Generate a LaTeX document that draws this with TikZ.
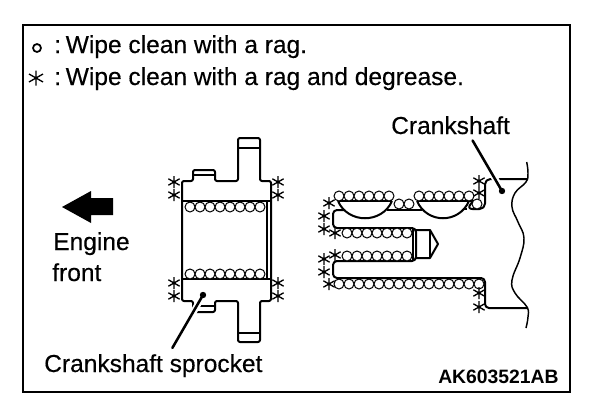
\documentclass[tikz,border=0pt]{standalone}
\usepackage{fontspec}
\setmainfont[FakeBold=0.35]{Liberation Sans}
\newfontfamily\codefont{Liberation Sans Bold}
\usetikzlibrary{calc}
\tikzset{
  hvy/.style={line width=1.5pt,line join=round},
  med/.style={line width=1.1pt,line join=round},
  ball/.style={line width=0.75pt,fill=white},
  label text/.style={inner sep=0pt,anchor=base west,font=\fontsize{18.4}{20}\selectfont},
  code text/.style={inner sep=0pt,anchor=base west,font=\fontsize{14.5}{16}\codefont},
  leader/.style={line width=1.9pt,line cap=round},
  halo/.style={line width=5pt,white},
  starmark/.pic={\draw[line width=1pt] (0,-6)--(0,6) (-5.6,-3.2)--(5.6,3.2) (-5.6,3.2)--(5.6,-3.2);}
}
\begin{document}
\begin{tikzpicture}[x=0.75pt,y=-0.75pt]
\useasboundingbox (0,0) rectangle (608,418);
% frame
\draw[line width=1.5pt] (23,24.5) rectangle (570,392);
% legend
\draw[line width=1.3pt] (37,48) circle (4);
\pic[scale=1.25] at (36,78) {starmark};
\node[label text] (legA) at (54,53) {:\hspace{3.5pt}Wipe clean with a rag.};
\node[label text] (legB) at (54,85) {:\hspace{3.5pt}Wipe clean with a rag and degrease.};
% arrow
\fill (62,207)--(91,191)--(91,198)--(113,198)--(113,215)--(91,215)--(91,223)--cycle;
\node[label text] (eng) at (53,250) {Engine};
\node[label text] (frt) at (52,281) {front};
% sprocket
\draw[hvy,rounded corners=1.5pt]
  (182,301)--(182,181)--(193,181)--(193,170)--(215,170)--(215,181)--(238,181)--(238,138)--(260,138)--(260,181)--(271,181)
  --(271,301)--(260,301)--(260,342)--(238,342)--(238,301)--(215,301)--(215,312)--(193,312)--(193,301)--cycle;
\draw[hvy] (238,148)--(260,148) (238,333)--(260,333) (193,174.5)--(215,174.5) (193,306)--(215,306);
\draw[hvy] (182,201)--(271,201) (182,279)--(271,279);
\draw[med] (267,201)--(267,279);
\draw[line width=2.2pt] (182,201)--(182,279);
\foreach \x in {190,200,...,260} {\draw[ball] (\x,207) circle (5); \draw[ball] (\x,274) circle (5);}
\foreach \y in {182,195,283,296} {\pic at (174,\y) {starmark}; \pic at (278,\y) {starmark};}
% crankshaft
\draw[hvy,rounded corners=3pt] (345,210)--(333,210)--(333,228)--(416,228)--(416,261)--(333,261)--(333,278)--(485,278)--(485,308)--(528,308);
\draw[hvy] (387,210)--(422,210) (464,209)--(467,209);
\draw[hvy,rounded corners=4pt] (473,201)--(467,209)--(485,209)--(485,179)--(527,179);
\draw[hvy] (338,201)--(392,201) (417,201)--(473,201);
\draw[hvy] (338,201) .. controls (348,224) and (382,224) .. (392,201);
\draw[hvy] (417,201) .. controls (427,224) and (459,224) .. (469,201);
\draw[med] (413,228)--(413,261);
\draw[hvy] (416,230)--(430,230)--(438,244)--(430,258)--(416,258);
\draw[med] (430,230)--(430,258);
\draw[med] plot[smooth,tension=0.7] coordinates {(526.7,162)(528,173)(526,182)(515,193)(512,207)(518,222)(524,238)(520,258)(512,280)(515,293)(527,307)(528,317)(526,328)};
\foreach \x in {339,349,...,389,419,429,...,469} \draw[ball] (\x,196) circle (5);
\foreach \p in {(399,204),(409,204),(477,204)} \draw[ball] \p circle (5);
\foreach \x in {347,357,...,407} {\draw[ball] (\x,233) circle (5); \draw[ball] (\x,256) circle (5);}
\foreach \x in {339,349,...,479} \draw[ball] (\x,284) circle (5);
\foreach \p in {(329,203),(324,216),(324,229),(335,233),(335,255),(324,259),(324,272),(329,284),(479,181),(479,193),(479,293),(479,307)} \pic at \p {starmark};
% labels and leaders
\node[label text] (lblC) at (391,134) {Crankshaft};
\node[label text] (lblS) at (44,372) {Crankshaft sprocket};
\node[code text] (code) at (438,383) {AK603521AB};
\coordinate (endC) at (502,191);
\coordinate (endS) at (203,295);
\draw[halo] ($(lblC.south)+(22,4)$)--(endC);
\draw[halo] ($(lblS.north)+(19,-4)$)--(endS);
\draw[leader] ($(lblC.south)+(22,6)$)--(endC);
\draw[leader] ($(lblS.north)+(19,-6)$)--(endS);
\fill (endC) circle (3.2);
\fill (endS) circle (3.2);
\end{tikzpicture}
\end{document}
